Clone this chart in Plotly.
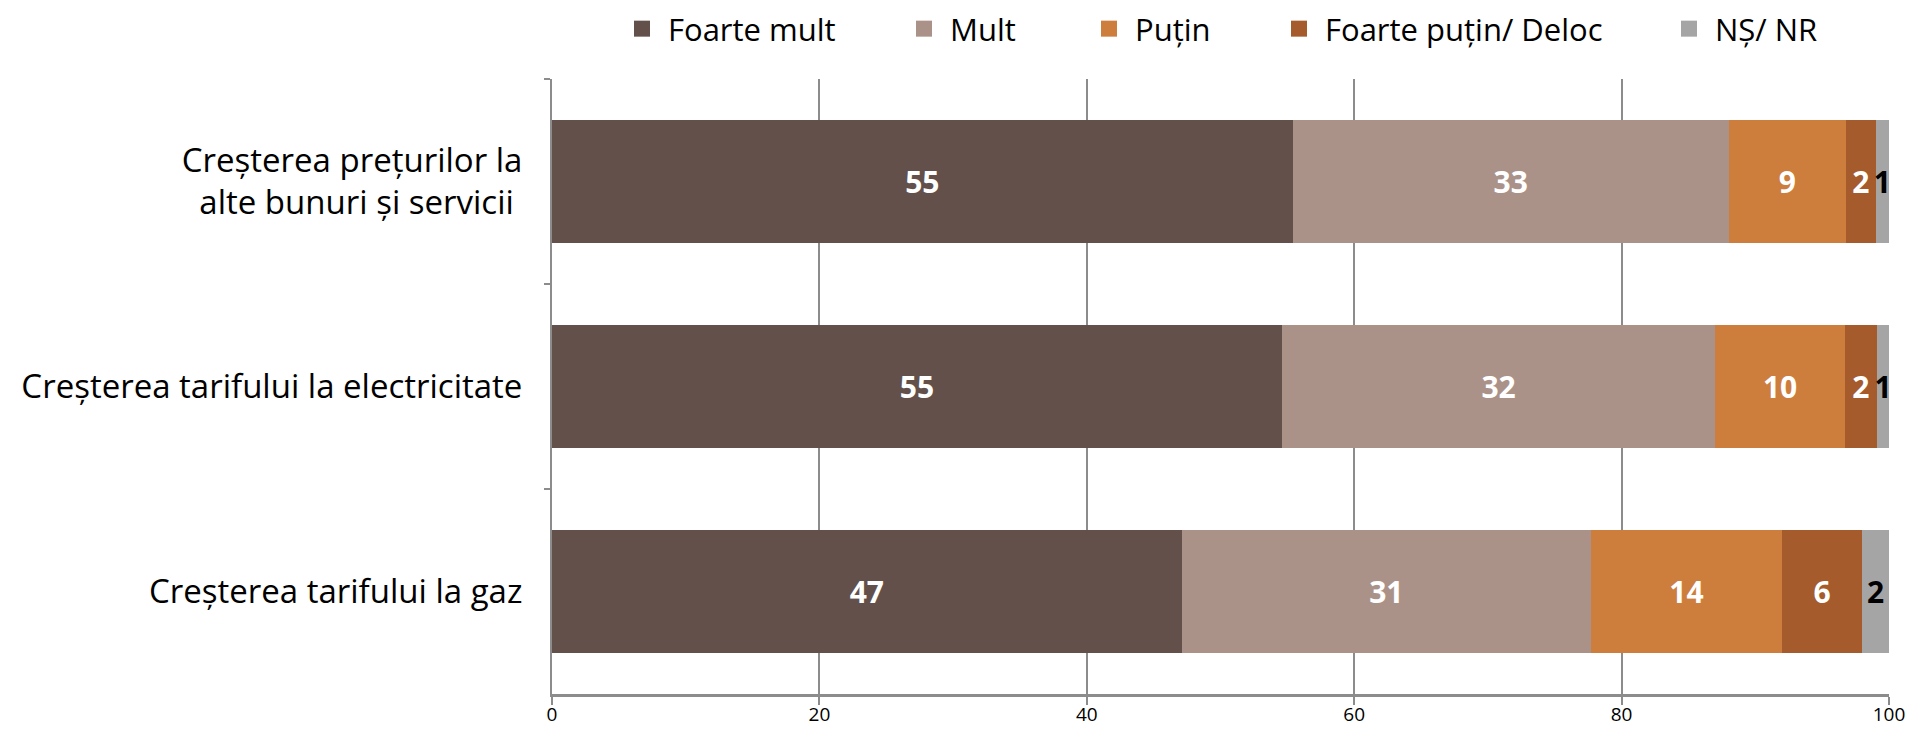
import plotly.graph_objects as go

categories = [
    "Creșterea prețurilor la<br>alte bunuri și servicii ",
    "Creșterea tarifului la electricitate",
    "Creșterea tarifului la gaz",
]
series_names = ["Foarte mult", "Mult", "Puțin", "Foarte puțin/ Deloc", "NȘ/ NR"]
foarte_mult = [55.4, 54.6, 47.1]
mult = [32.6, 32.4, 30.6]
putin = [8.8, 9.7, 14.3]
foarte_putin = [2.2, 2.4, 6.0]
ns_nr = [1.0, 0.9, 2.0]
x_ticks = [0, 20, 40, 60, 80, 100]

colors = ["#63504A", "#AB9289", "#CD7D3C", "#A55B2B", "#A5A5A5"]
label_colors = ["white", "white", "white", "white", "black"]
FONT = "Open Sans"

# the page body has an 8px margin, so the figure is offset by 8px
W, H = 1907, 721
ML, MR, MT, MB = 544, 26, 71, 35
L, R = ML, W - MR

# where each legend text should start (figure px)
legend_text_px = [660, 942, 1127, 1317, 1707]
TEXT_OFFSET = 52

fig = go.Figure()
all_values = [foarte_mult, mult, putin, foarte_putin, ns_nr]
for i, (name, vals) in enumerate(zip(series_names, all_values)):
    leg = "legend" if i == 0 else f"legend{i + 1}"
    fig.add_trace(go.Bar(
        y=categories, x=vals, orientation="h", name=name,
        marker=dict(color=colors[i], line=dict(width=0)),
        texttemplate="%{x:.0f}", textposition="inside", textangle=0,
        constraintext="none", insidetextanchor="middle",
        insidetextfont=dict(family=FONT, size=30, color=label_colors[i], weight="bold"),
        showlegend=False, hoverinfo="skip",
    ))
    # legend-only marker so the legend square can be a bit bigger
    fig.add_trace(go.Scatter(
        x=[None], y=[None], mode="markers", name=name, legend=leg,
        marker=dict(symbol="square", size=16, color=colors[i]),
    ))

layout_legends = {}
for i, px in enumerate(legend_text_px):
    key = "legend" if i == 0 else f"legend{i + 1}"
    layout_legends[key] = dict(
        x=(px - TEXT_OFFSET - L) / (R - L), xanchor="left",
        y=1 - 21 / H, yref="container", yanchor="middle",
        font=dict(family=FONT, size=31, color="black"), bgcolor="rgba(0,0,0,0)",
        borderwidth=0, itemwidth=42,
    )

fig.update_layout(
    barmode="stack", bargap=0.4,
    width=W, height=H,
    margin=dict(l=ML, r=MR, t=MT, b=MB, autoexpand=False),
    plot_bgcolor="white", paper_bgcolor="white",
    font=dict(family=FONT, color="black"),
    **layout_legends,
)
fig.update_xaxes(
    range=[0, 100], tickvals=x_ticks, showgrid=True, gridcolor="#8C8C8C", gridwidth=2,
    showline=True, linecolor="#8C8C8C", linewidth=3, ticks="outside", ticklen=8,
    tickcolor="#8C8C8C", tickwidth=2, tickfont=dict(family=FONT, size=19, color="black"),
    ticklabelstandoff=-7,
    zeroline=False, fixedrange=True, automargin=False, ticklabeloverflow="allow",
)
fig.update_yaxes(
    categoryorder="array", categoryarray=categories, autorange="reversed",
    showline=True, linecolor="#8C8C8C", linewidth=2, ticks="outside", ticklen=6,
    tickcolor="#8C8C8C", tickwidth=2, tickson="boundaries", ticklabelstandoff=21,
    tickfont=dict(family=FONT, size=33, color="black"), showgrid=False, fixedrange=True,
    automargin=False,
)

fig.write_html("out.html")
